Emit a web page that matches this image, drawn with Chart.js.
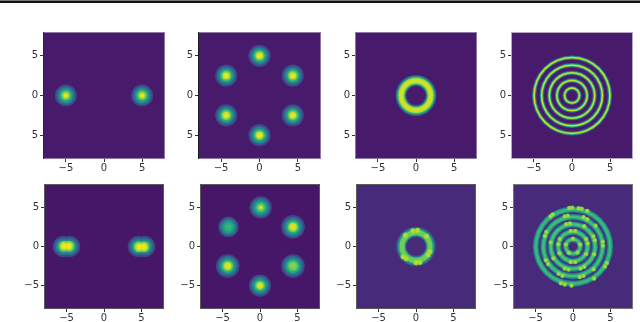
<!DOCTYPE html>
<html>
<head>
<meta charset="utf-8">
<script src="https://cdn.jsdelivr.net/npm/chart.js@4"></script>
<style>
  html, body { margin: 0; padding: 0; background: #fff; width: 640px; height: 322px; overflow: hidden; }
  #bar { position: absolute; left: 0; top: 0; width: 640px; height: 2px; background: #111; border-top: 1px solid #777; }
  canvas { position: absolute; filter: blur(0.35px); }
  canvas.soft { filter: blur(0.55px); }
</style>
</head>
<body>
<div id="bar"></div>
<script>
// tick values and labels
const tickValues = [-5, 0, 5];
const xTickLabels = ['\u22125', '0', '5'];
const yTickLabelsTop = ['5', '0', '5'];
const yTickLabelsBottom = ['\u22125', '0', '5'];

// viridis stops, level 0..1
const viridis = ['#440154', '#482475', '#414487', '#355f8d', '#2a788e', '#21918c', '#22a884', '#44bf70', '#7ad151', '#bddf26', '#fde725'];

// radial profiles: radius in axis units, colour level
const blobRadii = [1.45, 1.25, 1.05, 0.85, 0.65, 0.45, 0.25];
const blobLevels = [0.2, 0.32, 0.45, 0.58, 0.72, 0.86, 0.98];
const blobLevelsFull = [0.2, 0.32, 0.45, 0.6, 0.76, 0.92, 0.98];

const softRadiiSmall = [1.38, 1.18, 0.98, 0.78, 0.58, 0.38, 0.2];
const softRadiiMid = [1.48, 1.28, 1.06, 0.84, 0.62, 0.42, 0.2];
const softRadiiBig = [1.58, 1.36, 1.14, 0.92, 0.7, 0.48, 0.24];
const softLevelsGreen = [0.2, 0.33, 0.45, 0.55, 0.62, 0.65, 0.66];
const softLevelsPeak = [0.2, 0.33, 0.46, 0.58, 0.7, 0.8, 0.96];
const softLevelsHigh = [0.2, 0.33, 0.46, 0.6, 0.78, 0.93, 0.95];
const softLevelsMid = [0.2, 0.33, 0.46, 0.6, 0.72, 0.8, 0.82];

const twoCentres = [[-5, 0], [5, 0]];
const sixCentres = [[0, 5], [-4.33, 2.5], [4.33, 2.5], [-4.33, -2.5], [4.33, -2.5], [0, -5]];
const softCentres = [[0.1, 5], [-4.2, 2.5], [4.4, 2.5], [-4.3, -2.5], [4.4, -2.5], [0, -5]];

const ring3Radii = [2.68, 2.55, 2.42, 2.3, 2.18, 1.68, 1.55, 1.42, 1.32, 1.22];
const ring3Levels = [0.28, 0.48, 0.7, 0.86, 0.93, 0.85, 0.62, 0.35, 0.15, 0.07];

const ring4Radii = [5.25, 5.15, 5.08, 4.88, 4.78, 4.68, 4.25, 4.15, 4.08, 3.88, 3.78, 3.68, 3.25, 3.15, 3.08, 2.88, 2.78, 2.68, 2.25, 2.15, 2.08, 1.88, 1.78, 1.68, 1.25, 1.15, 1.08, 0.88, 0.78, 0.68];
const ring4Levels = [0.35, 0.6, 0.92, 0.55, 0.25, 0.07, 0.35, 0.6, 0.92, 0.55, 0.25, 0.07, 0.35, 0.6, 0.92, 0.55, 0.25, 0.07, 0.35, 0.6, 0.92, 0.55, 0.25, 0.07, 0.35, 0.6, 0.92, 0.55, 0.25, 0.07];

const ring7Radii = [2.65, 2.5, 2.35, 2.2, 1.6, 1.48, 1.38, 1.28];
const ring7Levels = [0.25, 0.42, 0.6, 0.78, 0.7, 0.45, 0.25, 0.12];
const ring7Beads = [[-0.4, 2], [0.2, 2.05], [-1.7, -1.3], [-1.3, -1.55], [1.85, -0.65], [1.6, -1.05], [0, -2.05], [0.5, -2], [-1.4, 1.45], [1.4, 1.3]];
const ring7BeadRadii = [0.36, 0.2];
const ring7BeadLevels = [0.84, 0.9];

const ring8Radii = [5.35, 5.25, 5.1, 4.8, 4.65, 4.55, 4.35, 4.22, 4.1, 3.8, 3.65, 3.52, 3.35, 3.22, 3.1, 2.8, 2.65, 2.52, 2.35, 2.22, 2.1, 1.8, 1.65, 1.52, 1.35, 1.22, 1.1, 0.8, 0.65, 0.55];
const ring8Levels = [0.4, 0.55, 0.68, 0.55, 0.3, 0.13, 0.4, 0.58, 0.7, 0.55, 0.3, 0.13, 0.4, 0.6, 0.72, 0.55, 0.3, 0.13, 0.4, 0.6, 0.72, 0.55, 0.3, 0.13, 0.4, 0.6, 0.72, 0.5, 0.28, 0.12];
const ring8Beads = [
  [-0.5, 4.92], [-0.1, 4.95], [0.75, 4.9], [1.15, 4.82], [1.9, 4.55], [-2.7, 4.1], [-3, 3.85], [4.5, -2.1], [4.25, -2.55], [-1.6, -4.7], [-1.1, -4.85], [-0.2, -4.98], [2.8, -4.1],
  [-3.55, 1.85], [-3.75, 1.35], [-1.1, 3.85], [-0.7, 3.93], [1.4, 3.75], [1.9, 3.5], [3, 2.65], [3.95, 0.6], [3.98, 0.1], [-3.6, -1.75], [-3.3, -2.25], [-1.9, -3.5], [-1.4, -3.75], [0.9, -3.9], [1.4, -3.75], [2.75, -2.9],
  [-2.95, 0.5], [-2.6, -1.5], [-1.1, -2.8], [-0.6, -2.93], [1, -2.83], [1.5, -2.6], [2.8, -1], [2.9, 0.8], [2.7, 1.3], [1.5, 2.6], [-0.9, 2.85], [-0.4, 2.95],
  [-0.3, 1.97], [0.3, 1.97], [1.75, 0.95], [1.95, 0.4], [1.75, -0.95], [0.3, -1.97], [-0.3, -1.97], [-1.8, -0.85], [-1.95, 0.3], [-1.75, 0.95],
  [0, 0.98], [0.95, 0.25], [0.6, -0.78], [-0.55, -0.8], [-0.95, 0.25]
];
const ring8BeadRadii = [0.3, 0.16];
const ring8BeadLevels = [0.8, 0.88];

// elongated blobs of the lower left panel, overlapping stacks
const wideCentres = [[-5.42, 0], [-4.58, 0], [4.58, 0], [5.42, 0]];
const wideRadii = [1.42, 1.2, 0.98, 0.78, 0.58];
const wideLevels = [0.2, 0.33, 0.46, 0.6, 0.72];
const coreCentres = [[-5.3, 0.05], [-4.7, 0.05], [4.7, -0.05], [5.3, -0.05]];
const coreRadii = [0.72, 0.52, 0.34];
const coreLevels = [0.78, 0.9, 0.98];

function stack(c, radii, levels) {
  return radii.map((r, i) => ({ x: c[0], y: c[1], r: r, level: levels[i] }));
}
function byLevel(a, b) { return a.level - b.level; }
function beads(list, radii, levels) {
  return list.flatMap(c => stack(c, radii, levels));
}

function colorAt(level) {
  const p = Math.max(0, Math.min(1, level)) * (viridis.length - 1);
  const i = Math.min(viridis.length - 2, Math.floor(p));
  const t = p - i;
  const a = parseInt(viridis[i].slice(1), 16), b = parseInt(viridis[i + 1].slice(1), 16);
  const mix = s => Math.round(((a >> s) & 255) * (1 - t) + ((b >> s) & 255) * t);
  return 'rgb(' + mix(16) + ',' + mix(8) + ',' + mix(0) + ')';
}

const frameTop = '#8f7aa6';
const frameBottom = '#5a5a5a';

const panels = [
  { left: 43, top: 32, w: 122, h: 127, bg: 0.07, yLabels: yTickLabelsTop, frame: frameTop, spine: '#2a2a2a',
    points: twoCentres.flatMap(c => stack(c, blobRadii, blobLevels)) },
  { left: 198, top: 32, w: 123, h: 127, bg: 0.07, yLabels: yTickLabelsTop, frame: frameTop, spine: '#1c1c1c',
    points: sixCentres.flatMap(c => stack(c, blobRadii, blobLevelsFull)) },
  { left: 355, top: 32, w: 122, h: 127, bg: 0.07, yLabels: yTickLabelsTop, frame: frameTop, spine: frameTop,
    points: stack([0, 0], ring3Radii, ring3Levels) },
  { left: 511, top: 32, w: 122, h: 127, bg: 0.07, yLabels: yTickLabelsTop, frame: '#b5a8c4', spine: '#b5a8c4',
    points: stack([0, 0], ring4Radii, ring4Levels) },
  { left: 44, top: 184, w: 120, h: 125, bg: 0.06, yLabels: yTickLabelsBottom, frame: frameBottom, spine: frameBottom,
    points: wideCentres.flatMap(c => stack(c, wideRadii, wideLevels)).sort(byLevel)
      .concat(coreCentres.flatMap(c => stack(c, coreRadii, coreLevels)).sort(byLevel)) },
  { left: 200, top: 184, w: 120, h: 125, bg: 0.06, yLabels: yTickLabelsBottom, frame: frameBottom, spine: frameBottom,
    points: stack(softCentres[0], softRadiiMid, softLevelsPeak)
      .concat(stack(softCentres[1], softRadiiSmall, softLevelsGreen))
      .concat(stack(softCentres[2], softRadiiBig, softLevelsHigh))
      .concat(stack(softCentres[3], softRadiiBig, softLevelsHigh))
      .concat(stack(softCentres[4], softRadiiBig, softLevelsMid))
      .concat(stack(softCentres[5], softRadiiMid, softLevelsHigh)) },
  { left: 356, top: 184, w: 120, h: 125, bg: 0.12, soft: true, yLabels: yTickLabelsBottom, frame: frameBottom, spine: frameBottom,
    points: stack([0, 0], ring7Radii, ring7Levels).concat(beads(ring7Beads, ring7BeadRadii, ring7BeadLevels).sort(byLevel)) },
  { left: 513, top: 184, w: 120, h: 125, bg: 0.12, soft: true, yLabels: yTickLabelsBottom, frame: '#777', spine: '#777',
    points: stack([0, 0], ring8Radii, ring8Levels).concat(beads(ring8Beads, ring8BeadRadii, ring8BeadLevels).sort(byLevel)) }
];

// panel background under the marks, frame over them
const panelPlugin = {
  id: 'panelFrame',
  beforeDatasetsDraw(chart, args, opts) {
    const a = chart.chartArea, c = chart.ctx;
    c.save();
    c.fillStyle = colorAt(opts.bg);
    c.fillRect(a.left, a.top, a.width, a.height);
    c.restore();
  },
  afterDatasetsDraw(chart, args, opts) {
    const a = chart.chartArea, c = chart.ctx;
    c.save();
    c.lineWidth = 1;
    c.strokeStyle = opts.frame;
    c.strokeRect(a.left + 0.5, a.top + 0.5, a.width - 1, a.height - 1);
    c.strokeStyle = opts.spine;
    c.beginPath();
    c.moveTo(a.left + 0.5, a.top);
    c.lineTo(a.left + 0.5, a.bottom);
    c.stroke();
    c.restore();
  }
};

const gutterLeft = 34, gutterBottom = 18, padTop = 8, padRight = 7;

panels.forEach(function (p) {
  const canvas = document.createElement('canvas');
  canvas.width = p.w + gutterLeft + padRight;
  canvas.height = p.h + padTop + gutterBottom;
  canvas.style.left = (p.left - gutterLeft) + 'px';
  canvas.style.top = (p.top - padTop) + 'px';
  if (p.soft) canvas.className = 'soft';
  document.body.appendChild(canvas);

  new Chart(canvas.getContext('2d'), {
    type: 'scatter',
    data: {
      datasets: [{
        data: p.points,
        pointRadius: function (ctx) {
          if (!ctx.raw) return 0;
          const s = ctx.chart.scales.x;
          return Math.abs(s.getPixelForValue(ctx.raw.r) - s.getPixelForValue(0));
        },
        pointBackgroundColor: function (ctx) {
          return ctx.raw ? colorAt(ctx.raw.level) : '#000';
        },
        pointBorderWidth: 0
      }]
    },
    plugins: [panelPlugin],
    options: {
      responsive: false,
      animation: false,
      events: [],
      layout: { padding: { top: padTop, right: padRight, left: 0, bottom: 0 } },
      plugins: {
        legend: { display: false },
        tooltip: { enabled: false },
        panelFrame: { bg: p.bg, frame: p.frame, spine: p.spine }
      },
      scales: {
        x: {
          type: 'linear',
          min: -8,
          max: 8,
          afterBuildTicks: function (axis) { axis.ticks = tickValues.map(v => ({ value: v })); },
          afterFit: function (axis) { axis.height = gutterBottom; },
          border: { display: false },
          grid: { drawOnChartArea: false, tickLength: 3, tickColor: '#333' },
          ticks: {
            autoSkip: false, maxRotation: 0, color: '#333', padding: 0,
            font: { family: 'DejaVu Sans', size: 10 },
            callback: function (value) { return xTickLabels[tickValues.indexOf(value)]; }
          }
        },
        y: {
          type: 'linear',
          min: -8,
          max: 8,
          afterBuildTicks: function (axis) { axis.ticks = tickValues.map(v => ({ value: v })); },
          afterFit: function (axis) { axis.width = gutterLeft; },
          border: { display: false },
          grid: { drawOnChartArea: false, tickLength: 3, tickColor: '#333' },
          ticks: {
            autoSkip: false, color: '#333', padding: 2,
            font: { family: 'DejaVu Sans', size: 10 },
            callback: function (value) { return p.yLabels[tickValues.indexOf(value)]; }
          }
        }
      }
    }
  });
});
</script>
</body>
</html>
